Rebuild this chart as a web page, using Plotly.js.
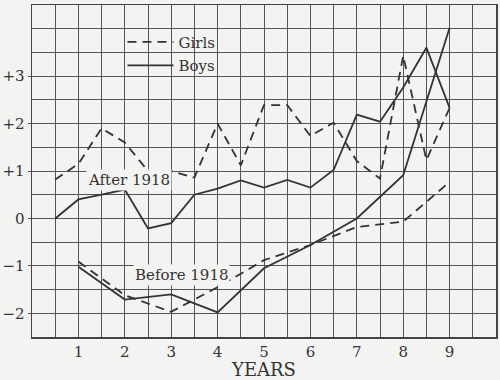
<!DOCTYPE html>
<html>
<head>
<meta charset="utf-8">
<script src="https://cdn.plot.ly/plotly-3.0.1.min.js"></script>
<style>html,body{margin:0;padding:0;background:#f3f3f1;}</style>
</head>
<body>
<div id="chart" style="width:500px;height:380px;"></div>
<script>
// Data
var afterYears = [0.5, 1, 1.5, 2, 2.5, 3, 3.5, 4, 4.5, 5, 5.5, 6, 6.5, 7, 7.5, 8, 8.5, 9];
var afterGirls = [0.82, 1.15, 1.9, 1.6, 1.0, 1.0, 0.86, 2.0, 1.12, 2.39, 2.39, 1.74, 2.02, 1.21, 0.84, 3.43, 1.23, 2.33];
var afterBoys  = [0.0, 0.4, 0.5, 0.61, -0.21, -0.1, 0.5, 0.63, 0.8, 0.65, 0.81, 0.65, 1.02, 2.19, 2.04, 2.76, 3.6, 2.33];
var beforeYears = [1, 2, 3, 4, 5, 6, 7, 8, 9];
var beforeGirls = [-0.91, -1.62, -1.97, -1.45, -0.88, -0.56, -0.18, -0.07, 0.77];
var beforeBoys  = [-1.02, -1.71, -1.6, -1.98, -1.05, -0.56, 0.0, 0.91, 4.02];
var xTickVals = [1, 2, 3, 4, 5, 6, 7, 8, 9];
var xTickText = ['1', '2', '3', '4', '5', '6', '7', '8', '9'];
var yTickVals = [-2, -1, 0, 1, 2, 3];
var yTickText = ['\u22122', '\u22121', '0', '+1', '+2', '+3'];
var seriesNames = ['Girls', 'Boys'];
var labelAfter = 'After 1918';
var labelBefore = 'Before 1918';
var axisTitle = 'YEARS';

var ink = '#333333';
var bg = '#f3f3f1';
var font = 'DejaVu Serif, Liberation Serif, serif';
var dashStyle = '9px,6px';

var traces = [
  {x: afterYears, y: afterGirls, mode: 'lines', name: seriesNames[0], legendgroup: 'g',
   line: {color: ink, width: 1.8, dash: dashStyle}, showlegend: true},
  {x: afterYears, y: afterBoys, mode: 'lines', name: seriesNames[1], legendgroup: 'b',
   line: {color: ink, width: 1.8}, showlegend: true},
  {x: beforeYears, y: beforeGirls, mode: 'lines', name: seriesNames[0], legendgroup: 'g',
   line: {color: ink, width: 1.8, dash: dashStyle}, showlegend: false},
  {x: beforeYears, y: beforeBoys, mode: 'lines', name: seriesNames[1], legendgroup: 'b',
   line: {color: ink, width: 1.8}, showlegend: false}
];

var layout = {
  width: 500, height: 380,
  margin: {l: 32, r: 4, t: 5, b: 43},
  paper_bgcolor: bg, plot_bgcolor: bg,
  font: {family: font, color: ink, size: 15},
  showlegend: true,
  legend: {x: 0.195, y: 0.938, xanchor: 'left', yanchor: 'top', bgcolor: 'rgba(0,0,0,0)',
           font: {family: font, size: 15, color: ink}, tracegroupgap: 1, itemwidth: 46},
  xaxis: {range: [0, 10], tickmode: 'array', tickvals: xTickVals, ticktext: xTickText,
          showgrid: true, gridcolor: '#555', gridwidth: 1, zeroline: false,
          showline: true, mirror: true, linecolor: '#444', linewidth: 1.5,
          ticks: '', tickfont: {size: 15, color: ink},
          minor: {dtick: 0.5, tick0: 0, showgrid: true, gridcolor: '#555', gridwidth: 1},
          title: {text: axisTitle, font: {size: 18, color: ink}, standoff: 5}, fixedrange: true},
  yaxis: {range: [-2.5, 4.5], tickmode: 'array', tickvals: yTickVals, ticktext: yTickText,
          showgrid: true, gridcolor: '#555', gridwidth: 1, zeroline: false,
          showline: true, mirror: true, linecolor: '#444', linewidth: 1.5,
          ticks: 'outside', ticklen: 3, tickcolor: '#555', tickfont: {size: 15, color: ink},
          minor: {dtick: 0.5, tick0: 0, showgrid: true, gridcolor: '#555', gridwidth: 1},
          fixedrange: true},
  annotations: [
    {x: 2.09, y: 0.82, xref: 'x', yref: 'y', text: labelAfter, showarrow: false,
     bgcolor: bg, font: {size: 15, color: ink}, borderpad: 1},
    {x: 3.23, y: -1.2, xref: 'x', yref: 'y', text: labelBefore, showarrow: false,
     bgcolor: bg, font: {size: 15, color: ink}, borderpad: 1}
  ]
};

Plotly.newPlot('chart', traces, layout, {staticPlot: true, displayModeBar: false});
</script>
</body>
</html>
